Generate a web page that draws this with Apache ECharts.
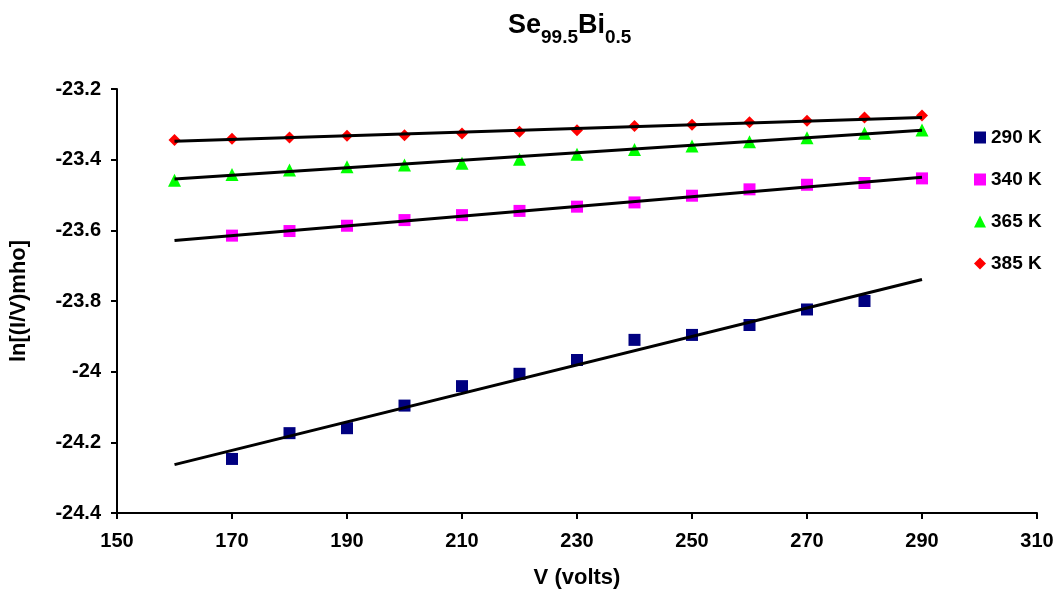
<!DOCTYPE html>
<html>
<head>
<meta charset="utf-8">
<script src="https://cdn.jsdelivr.net/npm/echarts@6/dist/echarts.min.js"></script>
<style>
  html, body { margin: 0; padding: 0; background: #fff; }
  #chart { width: 1057px; height: 590px; }
</style>
</head>
<body>
<div id="chart"></div>
<script>
// voltages (V)
const volts = [160, 170, 180, 190, 200, 210, 220, 230, 240, 250, 260, 270, 280, 290];

// ln[(I/V)mho], null = no point
const k290 = [null, -24.247, -24.174, -24.160, -24.096, -24.041, -24.006, -23.967, -23.910, -23.896, -23.868, -23.824, -23.800, null];
const k340 = [null, -23.615, -23.602, -23.587, -23.571, -23.557, -23.545, -23.533, -23.521, -23.502, -23.484, -23.471, -23.466, -23.453];
const k365 = [-23.458, -23.442, -23.429, -23.420, -23.415, -23.410, -23.399, -23.385, -23.371, -23.361, -23.349, -23.338, -23.325, -23.316];
const k385 = [-23.344, -23.341, -23.337, -23.332, -23.331, -23.326, -23.321, -23.317, -23.305, -23.301, -23.294, -23.290, -23.281, -23.275];

// linear fit lines, value at V = 160 and V = 290
const fitX = [160, 290];
const fit290 = [-24.263, -23.739];
const fit340 = [-23.629, -23.450];
const fit365 = [-23.455, -23.317];
const fit385 = [-23.348, -23.281];

const names = ['290 K', '340 K', '365 K', '385 K'];
const colors = ['#000080', '#FF00FF', '#00FF00', '#FF0000'];
const symbols = ['rect', 'rect', 'triangle', 'diamond'];
const sizes = [12, 12, 13, 12];

const pts = arr => volts.map((v, i) => [v, arr[i]]).filter(p => p[1] !== null);
const fit = arr => fitX.map((v, i) => [v, arr[i]]);

const font = 'Liberation Sans, Arial, sans-serif';

const scatter = [k290, k340, k365, k385].map((arr, i) => ({
  name: names[i],
  type: 'scatter',
  data: pts(arr),
  symbol: symbols[i],
  symbolSize: sizes[i],
  itemStyle: { color: colors[i], opacity: 1 },
  z: 3,
}));

const fits = [fit290, fit340, fit365, fit385].map(arr => ({
  type: 'line',
  data: fit(arr),
  symbol: 'none',
  lineStyle: { color: '#000', width: 3 },
  z: 4,
  silent: true,
}));

const chart = echarts.init(document.getElementById('chart'));
chart.setOption({
  backgroundColor: '#fff',
  animation: false,
  title: {
    text: '{a|Se}{b|99.5}{a|Bi}{b|0.5}',
    left: 503, top: 0,
    textStyle: {
      rich: {
        a: { fontFamily: font, fontWeight: 'bold', fontSize: 27, color: '#000', lineHeight: 34, verticalAlign: 'bottom' },
        b: { fontFamily: font, fontWeight: 'bold', fontSize: 19, color: '#000', lineHeight: 34, verticalAlign: 'bottom', padding: [0, 0, -8, 0] },
      },
    },
  },
  legend: {
    data: names,
    orient: 'vertical',
    left: 969, top: 123,
    itemGap: 23,
    itemWidth: 12, itemHeight: 12,
    textStyle: { fontFamily: font, fontWeight: 'bold', fontSize: 19, color: '#000' },
  },
  grid: { left: 117, right: 20, top: 89, bottom: 77, outerBoundsMode: 'none' },
  xAxis: {
    type: 'value', min: 150, max: 310, interval: 20,
    name: 'V (volts)', nameLocation: 'middle', nameGap: 54,
    nameTextStyle: { fontFamily: font, fontWeight: 'bold', fontSize: 22, color: '#000' },
    axisLine: { onZero: false, lineStyle: { color: '#000', width: 2 } },
    axisTick: { show: true, length: 6, lineStyle: { color: '#000', width: 2 } },
    axisLabel: { fontFamily: font, fontWeight: 'bold', fontSize: 20, color: '#000', margin: 18 },
    splitLine: { show: false },
  },
  yAxis: {
    type: 'value', min: -24.4, max: -23.2, interval: 0.2,
    name: 'ln[(I/V)mho]', nameLocation: 'middle', nameGap: 87,
    nameTextStyle: { fontFamily: font, fontWeight: 'bold', fontSize: 22, color: '#000' },
    axisLine: { onZero: false, lineStyle: { color: '#000', width: 2 } },
    axisTick: { show: true, length: 6, lineStyle: { color: '#000', width: 2 } },
    axisLabel: { fontFamily: font, fontWeight: 'bold', fontSize: 20, color: '#000', margin: 16,
      formatter: v => String(Math.round(v * 10) / 10) },
    splitLine: { show: false },
  },
  series: [...scatter, ...fits],
});
</script>
</body>
</html>
